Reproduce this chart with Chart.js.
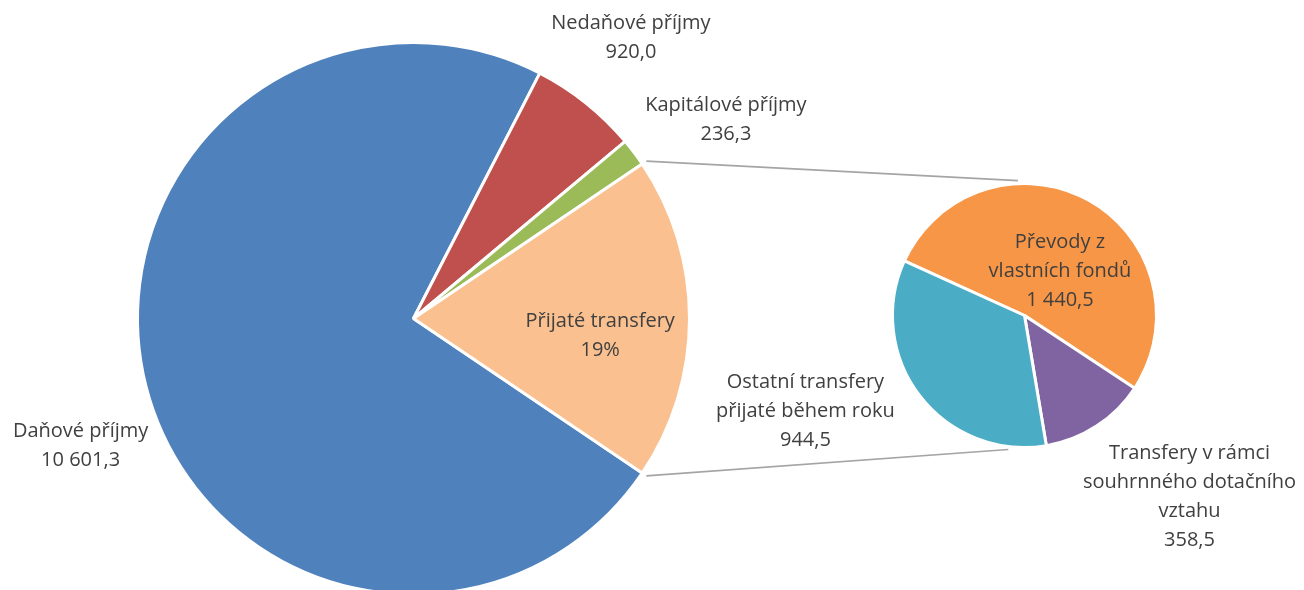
<!DOCTYPE html>
<html>
<head>
<meta charset="utf-8">
<script src="https://cdn.jsdelivr.net/npm/chart.js@4.4.1/dist/chart.umd.min.js"></script>
<style>
  html, body { margin: 0; padding: 0; background: #fff; overflow: hidden; width: 1304px; height: 590px; }
  canvas { position: absolute; left: 0; top: 0; }
</style>
</head>
<body>
<canvas id="hlavni" width="1304" height="640"></canvas>
<canvas id="detail" width="1304" height="640"></canvas>
<script>
// hlavni kolac (mil. Kc)
const kategorie = ['Daňové příjmy', 'Nedaňové příjmy', 'Kapitálové příjmy', 'Přijaté transfery'];
const hodnotyHlavni = [10601.3, 920.0, 236.3];
// rozpad prijatych transferu
const kategorieDetail = ['Převody z vlastních fondů', 'Transfery v rámci souhrnného dotačního vztahu', 'Ostatní transfery přijaté během roku'];
const hodnotyDetail = [1440.5, 358.5, 944.5];

const barvyHlavni = ['#4F81BD', '#C0504D', '#9BBB59', '#FAC090'];
const barvyDetail = ['#F79646', '#8064A2', '#4BACC6'];

const transfery = hodnotyDetail.reduce((a, b) => a + b, 0);
const vsechnyHodnoty = hodnotyHlavni.concat([transfery]);
const celkem = vsechnyHodnoty.reduce((a, b) => a + b, 0);

function cislo(v) {
    const s = v.toFixed(1).split('.');
    return s[0].replace(/\B(?=(\d{3})+(?!\d))/g, ' ') + ',' + s[1];
}

const FONT = '20px "Open Sans"';
const BARVA_TEXTU = '#404040';
const RADEK = 29;

// popisky: radky, pozice podle stredu vysece (k = nasobek polomeru, dx/dy = doladeni)
const popiskyHlavni = [
    { radky: ['Daňové příjmy', cislo(hodnotyHlavni[0])], k: 1.29, dx: 12, dy: 39 },
    { radky: ['Nedaňové příjmy', cislo(hodnotyHlavni[1])], k: 1.29, dx: -5, dy: -3 },
    { radky: ['Kapitálové příjmy', cislo(hodnotyHlavni[2])], k: 1.34, dx: 17, dy: 24 },
    { radky: ['Přijaté transfery', Math.round(transfery / celkem * 100) + '%'], k: 0.68, dx: -1, dy: 17 }
];
const popiskyDetail = [
    { radky: ['Převody z', 'vlastních fondů', cislo(hodnotyDetail[0])], k: 0.43, dx: 8, dy: 5 },
    { radky: ['Transfery v rámci', 'souhrnného dotačního', 'vztahu', cislo(hodnotyDetail[1])], k: 1.75, dx: 39, dy: -12 },
    { radky: ['Ostatní transfery', 'přijaté během roku', cislo(hodnotyDetail[2])], k: 1.75, dx: -36, dy: -45 }
];

function kresliPopisky(chart, popisky) {
    const ctx = chart.ctx;
    const oblouky = chart.getDatasetMeta(0).data;
    ctx.save();
    ctx.font = FONT;
    ctx.fillStyle = BARVA_TEXTU;
    ctx.textAlign = 'center';
    ctx.textBaseline = 'middle';
    popisky.forEach(function(p, i) {
        const a = oblouky[i];
        const uhel = (a.startAngle + a.endAngle) / 2;
        const x = a.x + Math.cos(uhel) * a.outerRadius * p.k + p.dx;
        const y = a.y + Math.sin(uhel) * a.outerRadius * p.k + p.dy;
        const y0 = y - (p.radky.length - 1) * RADEK / 2;
        p.radky.forEach(function(t, j) {
            ctx.fillText(t, x, y0 + j * RADEK);
        });
    });
    ctx.restore();
}

const spolecne = {
    responsive: false,
    animation: false,
    plugins: { legend: { display: false }, tooltip: { enabled: false } }
};

const hlavniGraf = new Chart(document.getElementById('hlavni'), {
    type: 'pie',
    data: {
        labels: kategorie,
        datasets: [{
            data: vsechnyHodnoty,
            backgroundColor: barvyHlavni,
            borderColor: '#ffffff',
            borderWidth: 3
        }]
    },
    options: Object.assign({}, spolecne, {
        rotation: 90 + transfery / celkem * 180,
        layout: { padding: { left: 136, top: 41, right: 613, bottom: 44 } }
    }),
    plugins: [{
        id: 'popiskyHlavni',
        afterDatasetsDraw: function(chart) { kresliPopisky(chart, popiskyHlavni); }
    }]
});

const detailGraf = new Chart(document.getElementById('detail'), {
    type: 'pie',
    data: {
        labels: kategorieDetail,
        datasets: [{
            data: hodnotyDetail,
            backgroundColor: barvyDetail,
            borderColor: '#ffffff',
            borderWidth: 3
        }]
    },
    options: Object.assign({}, spolecne, {
        rotation: 294.4,
        layout: { padding: { left: 891, top: 182, right: 146, bottom: 191 } }
    }),
    plugins: [{
        id: 'spojnice',
        beforeDatasetsDraw: function(chart) {
            const ctx = chart.ctx;
            const t = hlavniGraf.getDatasetMeta(0).data[3];
            const d = chart.getDatasetMeta(0).data[0];
            const rA = t.outerRadius + 5;
            const rB = d.outerRadius + 3;
            const konceDetail = [-92.8 * Math.PI / 180, 96.9 * Math.PI / 180];
            const konceHlavni = [t.startAngle, t.endAngle];
            ctx.save();
            ctx.strokeStyle = '#A5A5A5';
            ctx.lineWidth = 1.6;
            for (let i = 0; i < 2; i++) {
                ctx.beginPath();
                ctx.moveTo(t.x + Math.cos(konceHlavni[i]) * rA, t.y + Math.sin(konceHlavni[i]) * rA);
                ctx.lineTo(d.x + Math.cos(konceDetail[i]) * rB, d.y + Math.sin(konceDetail[i]) * rB);
                ctx.stroke();
            }
            ctx.restore();
        },
        afterDatasetsDraw: function(chart) { kresliPopisky(chart, popiskyDetail); }
    }]
});
</script>
</body>
</html>
